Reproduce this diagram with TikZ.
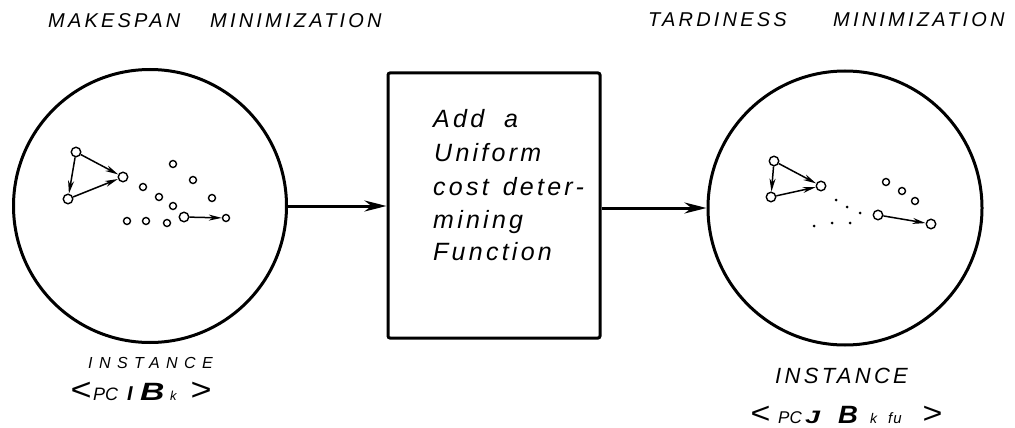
\documentclass[tikz,border=0pt]{standalone}
\usepackage{fontspec}
\setmainfont{Liberation Sans}
\usetikzlibrary{arrows.meta}
\newcommand{\spaced}[1]{\addfontfeatures{LetterSpace=#1}}
\newcommand{\wideopen}{\scalebox{2.0}[1.75]{<}}
\newcommand{\wideclose}{\scalebox{2.0}[1.75]{>}}
\begin{document}
\begin{tikzpicture}[x=1pt,y=-1pt,
  heavy/.style={line width=3pt},
  bigarrow/.style={heavy,-{Stealth[length=22pt,width=11pt,inset=7pt]}},
  vtx/.style={circle,draw,line width=1.4pt,inner sep=0pt,minimum size=7pt},
  bigvtx/.style={vtx,minimum size=9.5pt},
  tiny/.style={circle,fill,inner sep=0pt,minimum size=3pt},
  arc/.style={line width=1.5pt,-{Stealth[length=13pt,width=6pt,inset=4pt]}},
  head/.style={anchor=base west,inner sep=0pt,font=\itshape\fontsize{20}{20}\selectfont\spaced{16}},
  boxline/.style={anchor=base west,inner sep=0pt,font=\itshape\fontsize{25}{25}\selectfont\spaced{13}},
  caption/.style={anchor=base west,inner sep=0pt}]
\useasboundingbox (0,0) rectangle (1015,428);

% titles
\node[head] (tl1) at (48,28) {MAKESPAN};
\node[head] (tl2) at (210,28) {MINIMIZATION};
\node[head] (tr1) at (648,27) {TARDINESS};
\node[head] (tr2) at (833,27) {MINIMIZATION};

% the two instances and the transformation box
\node[draw,circle,heavy,minimum size=273pt,inner sep=0pt] (inL) at (150,206) {};
\node[draw,circle,heavy,minimum size=274pt,inner sep=0pt] (inR) at (845,208) {};
\node[draw,heavy,rounded corners=2pt,minimum width=212pt,minimum height=265pt,inner sep=0pt] (fn) at (494,205.5) {};

\draw[bigarrow] (inL.east) -- (inL.east -| fn.west);
\draw[bigarrow] (fn.east |- inR.west) -- (inR.west);

% box text
\node[boxline] (b1) at (433,127) {Add\hspace{20pt}a};
\node[boxline] (b2) at (434,161) {Uniform};
\node[boxline] (b3) at (433,195) {cost\hspace{14pt}deter-};
\node[boxline] (b4) at (433,228) {mining};
\node[boxline] (b5) at (433,260) {Function};

% left instance graph
\node[bigvtx] (la) at (76,152) {};
\node[bigvtx] (lb) at (123,177) {};
\node[bigvtx] (lc) at (68,199) {};
\draw[arc] (la) -- (lb);
\draw[arc] (la) -- (lc);
\draw[arc] (lc) -- (lb);
\node[vtx] (l1) at (173,164) {};
\node[vtx] (l2) at (193,180) {};
\node[vtx] (l3) at (143,187) {};
\node[vtx] (l4) at (159,197) {};
\node[vtx] (l5) at (173,206) {};
\node[vtx] (l6) at (212,198) {};
\node[vtx] (l7) at (127,221) {};
\node[vtx] (l8) at (146,221) {};
\node[vtx] (l9) at (167,223) {};
\node[bigvtx] (ld) at (184,217) {};
\node[vtx] (le) at (226,218) {};
\draw[arc] (ld) -- (le);

% right instance graph
\node[bigvtx] (ra) at (774,161) {};
\node[bigvtx] (rb) at (821,186) {};
\node[bigvtx] (rc) at (771,197) {};
\draw[arc] (ra) -- (rb);
\draw[arc] (ra) -- (rc);
\draw[arc] (rc) -- (rb);
\node[vtx] (r1) at (886,182) {};
\node[vtx] (r2) at (902,191) {};
\node[vtx] (r3) at (915,201) {};
\node[tiny] (r4) at (836,200) {};
\node[tiny] (r5) at (847,207) {};
\node[tiny] (r6) at (860,213) {};
\node[tiny] (r7) at (814,226) {};
\node[tiny] (r8) at (832,223) {};
\node[tiny] (r9) at (850,223) {};
\node[bigvtx] (rd) at (878,215) {};
\node[bigvtx] (re) at (931,224) {};
\draw[arc] (rd) -- (re);

% captions
\node[caption,font=\itshape\fontsize{16}{16}\selectfont\spaced{40}] (il) at (88,368) {INSTANCE};
\node[caption,font=\itshape\fontsize{18}{18}\selectfont] (fl) at (70,400)
  {\makebox[23pt][l]{\wideopen}\makebox[34pt][l]{PC}\makebox[13pt][l]{\fontsize{20}{20}\selectfont\textbf{I}}\makebox[30pt][l]{\fontsize{25}{25}\selectfont\scalebox{1.35}[1]{\textbf{B}}}\makebox[20pt][l]{\fontsize{13}{13}\selectfont k}\wideclose};
\node[caption,font=\itshape\fontsize{22}{22}\selectfont\spaced{15}] (ir) at (775,383) {INSTANCE};
\node[caption,font=\itshape\fontsize{17}{17}\selectfont] (fr) at (750,423)
  {\makebox[28pt][l]{\wideopen}\makebox[27pt][l]{PC}\makebox[33pt][l]{\fontsize{18}{18}\selectfont\scalebox{1.5}[1]{\textbf{J}}}\makebox[32pt][l]{\fontsize{25}{25}\selectfont\scalebox{1.1}[1]{\textbf{B}}}\makebox[18pt][l]{\fontsize{14}{14}\selectfont k}\makebox[34pt][l]{\fontsize{15}{15}\selectfont f\hspace{1pt}u}\wideclose};
\end{tikzpicture}
\end{document}
